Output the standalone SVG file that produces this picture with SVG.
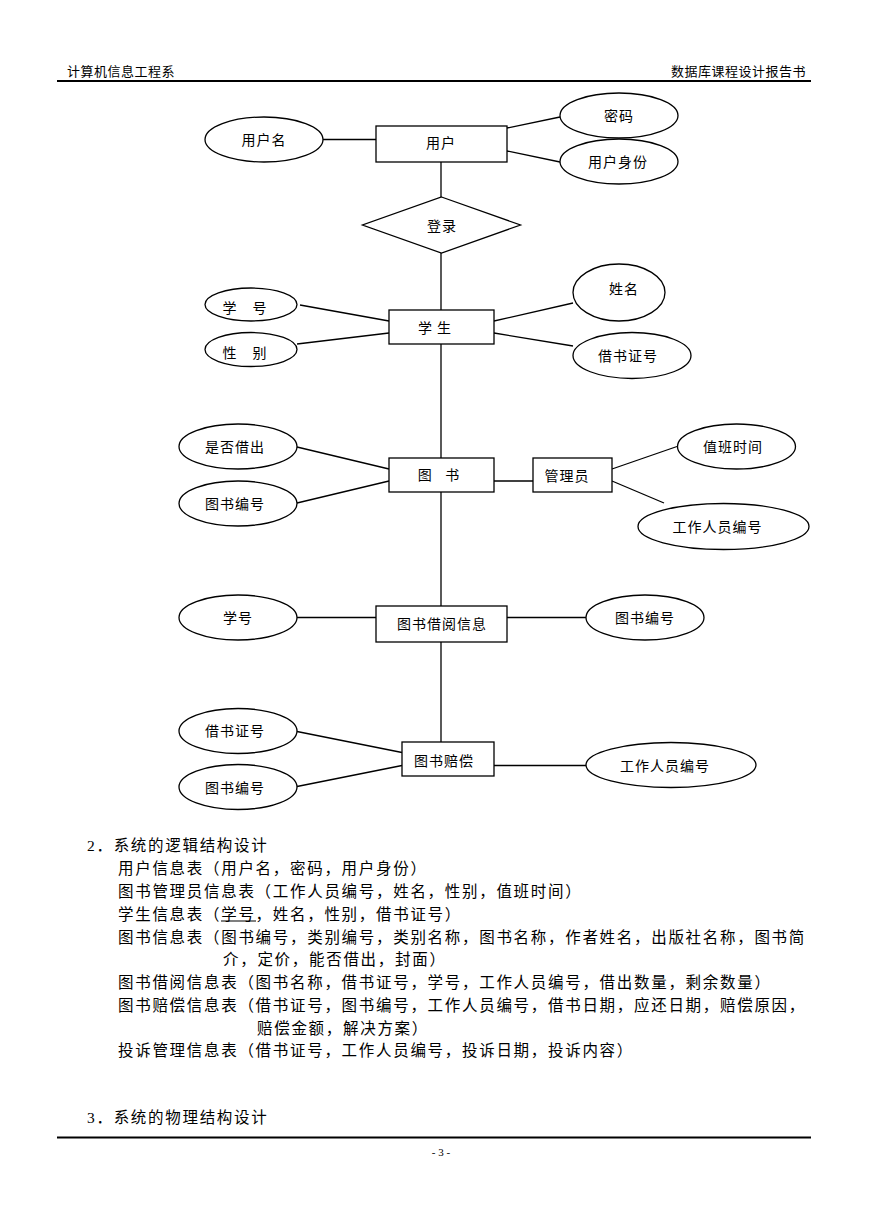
<svg xmlns="http://www.w3.org/2000/svg" width="869" height="1228" viewBox="0 0 869 1228">
<style>
.sh{fill:#fff;stroke:#000;stroke-width:1.3}
.cn line{stroke:#000;stroke-width:1.3}
.lb{font-family:"Noto Sans CJK SC","Liberation Sans",sans-serif;font-size:14px;letter-spacing:1px;text-anchor:middle;dominant-baseline:central;fill:#000}
.bd{font-family:"Liberation Serif","Noto Sans CJK SC",serif;font-size:15.5px;letter-spacing:1.7px;dominant-baseline:central;fill:#000}
.hd{font-family:"Noto Sans CJK SC","Liberation Sans",sans-serif;font-size:13px;letter-spacing:0.5px;dominant-baseline:central;fill:#000}
</style>
<rect width="869" height="1228" fill="#fff"/>
<g id="header">
<text class="hd" x="67" y="70">计算机信息工程系</text>
<text class="hd" x="806" y="70" text-anchor="end">数据库课程设计报告书</text>
<line x1="57" y1="81" x2="811" y2="81" stroke="#000" stroke-width="2"/>
</g>
<g class="cn" id="connectors">
<line x1="323" y1="139.5" x2="376" y2="139.5"/>
<line x1="507" y1="128" x2="560" y2="117"/>
<line x1="507" y1="151" x2="560" y2="162"/>
<line x1="441" y1="162" x2="441" y2="197"/>
<line x1="441" y1="253" x2="441" y2="310"/>
<line x1="300" y1="305" x2="389" y2="321"/>
<line x1="297" y1="344" x2="389" y2="333"/>
<line x1="494" y1="321" x2="573" y2="303"/>
<line x1="494" y1="333" x2="573" y2="346"/>
<line x1="441" y1="344" x2="441" y2="458"/>
<line x1="297" y1="447" x2="389" y2="469"/>
<line x1="297" y1="503" x2="389" y2="481"/>
<line x1="494" y1="481" x2="533" y2="481"/>
<line x1="612" y1="469" x2="677" y2="446.5"/>
<line x1="612" y1="481" x2="664" y2="503"/>
<line x1="441" y1="492" x2="441" y2="606"/>
<line x1="297" y1="617.5" x2="376" y2="617.5"/>
<line x1="507" y1="617.5" x2="586" y2="617.5"/>
<line x1="441" y1="642" x2="441" y2="742"/>
<line x1="297" y1="731.5" x2="402" y2="752.5"/>
<line x1="297" y1="786.5" x2="402" y2="765.5"/>
<line x1="494" y1="765.5" x2="586" y2="765.5"/>
</g>
<g id="n-user"><rect class="sh" x="376" y="126" width="131" height="36"/><text class="lb" x="441" y="142">用户</text></g>
<g id="n-username"><ellipse class="sh" cx="264" cy="139.5" rx="59" ry="22.5"/><text class="lb" x="264" y="138.5">用户名</text></g>
<g id="n-password"><ellipse class="sh" cx="619" cy="115.5" rx="59" ry="22.5"/><text class="lb" x="619" y="115">密码</text></g>
<g id="n-role"><ellipse class="sh" cx="619" cy="161.5" rx="59" ry="22.5"/><text class="lb" x="618" y="161">用户身份</text></g>
<g id="n-login"><polygon class="sh" points="441.5,197 520.5,225 441.5,253 362.5,225"/><text class="lb" x="442" y="225">登录</text></g>
<g id="n-student"><rect class="sh" x="389" y="310" width="105" height="34"/><text class="lb" x="435" y="327" xml:space="preserve">学 生</text></g>
<g id="n-sno"><ellipse class="sh" cx="251" cy="304.5" rx="46" ry="16.5"/><text class="lb" x="245" y="306.5">学　号</text></g>
<g id="n-sex"><ellipse class="sh" cx="251" cy="349.5" rx="46" ry="17"/><text class="lb" x="245" y="351.5">性　别</text></g>
<g id="n-name"><ellipse class="sh" cx="619" cy="292.5" rx="46" ry="28.5"/><text class="lb" x="624" y="288">姓名</text></g>
<g id="n-card"><ellipse class="sh" cx="632" cy="355.5" rx="59" ry="23"/><text class="lb" x="628" y="355">借书证号</text></g>
<g id="n-book"><rect class="sh" x="389" y="458" width="105" height="34"/><text class="lb" x="439" y="474" xml:space="preserve">图   书</text></g>
<g id="n-lent"><ellipse class="sh" cx="238" cy="446.5" rx="59" ry="22.5"/><text class="lb" x="235" y="446">是否借出</text></g>
<g id="n-bookno1"><ellipse class="sh" cx="238" cy="503.5" rx="59" ry="22.5"/><text class="lb" x="235" y="502.5">图书编号</text></g>
<g id="n-admin"><rect class="sh" x="533" y="458" width="79" height="34"/><text class="lb" x="567" y="475">管理员</text></g>
<g id="n-duty"><ellipse class="sh" cx="736.5" cy="446.5" rx="59" ry="22.5"/><text class="lb" x="733" y="446">值班时间</text></g>
<g id="n-staffno1"><ellipse class="sh" cx="723.5" cy="526.5" rx="85.5" ry="23"/><text class="lb" x="717.5" y="526">工作人员编号</text></g>
<g id="n-borrow"><rect class="sh" x="376" y="606" width="131" height="36"/><text class="lb" x="442" y="622.5">图书借阅信息</text></g>
<g id="n-sno2"><ellipse class="sh" cx="238" cy="617.5" rx="59" ry="22.5"/><text class="lb" x="238" y="616.5">学号</text></g>
<g id="n-bookno2"><ellipse class="sh" cx="645" cy="617.5" rx="59" ry="22.5"/><text class="lb" x="645" y="616.5">图书编号</text></g>
<g id="n-comp"><rect class="sh" x="402" y="742" width="92" height="34"/><text class="lb" x="444" y="760">图书赔偿</text></g>
<g id="n-card2"><ellipse class="sh" cx="238" cy="731" rx="59" ry="22.5"/><text class="lb" x="235" y="730">借书证号</text></g>
<g id="n-bookno3"><ellipse class="sh" cx="238" cy="787" rx="59" ry="22.5"/><text class="lb" x="235" y="786.5">图书编号</text></g>
<g id="n-staffno2"><ellipse class="sh" cx="671" cy="765" rx="85" ry="22.5"/><text class="lb" x="665" y="765">工作人员编号</text></g>
<g id="body">
<text class="bd" x="87" y="845">2．系统的逻辑结构设计</text>
<text class="bd" x="118" y="868">用户信息表（用户名，密码，用户身份）</text>
<text class="bd" x="118" y="891">图书管理员信息表（工作人员编号，姓名，性别，值班时间）</text>
<text class="bd" x="118" y="914">学生信息表（学号，姓名，性别，借书证号）</text>
<line x1="221" y1="921" x2="256" y2="921" stroke="#000" stroke-width="1.2"/>
<text class="bd" x="118" y="937">图书信息表（图书编号，类别编号，类别名称，图书名称，作者姓名，出版社名称，图书简</text>
<text class="bd" x="223" y="959">介，定价，能否借出，封面）</text>
<text class="bd" x="118" y="982">图书借阅信息表（图书名称，借书证号，学号，工作人员编号，借出数量，剩余数量）</text>
<text class="bd" x="118" y="1005">图书赔偿信息表（借书证号，图书编号，工作人员编号，借书日期，应还日期，赔偿原因，</text>
<text class="bd" x="257" y="1028">赔偿金额，解决方案）</text>
<text class="bd" x="118" y="1050">投诉管理信息表（借书证号，工作人员编号，投诉日期，投诉内容）</text>
<text class="bd" x="87" y="1117">3．系统的物理结构设计</text>
</g>
<g id="footer">
<line x1="57" y1="1137.5" x2="811" y2="1137.5" stroke="#000" stroke-width="2"/>
<text x="441" y="1152" font-family="Liberation Serif, serif" font-size="11" text-anchor="middle" dominant-baseline="central">- 3 -</text>
</g>
</svg>
